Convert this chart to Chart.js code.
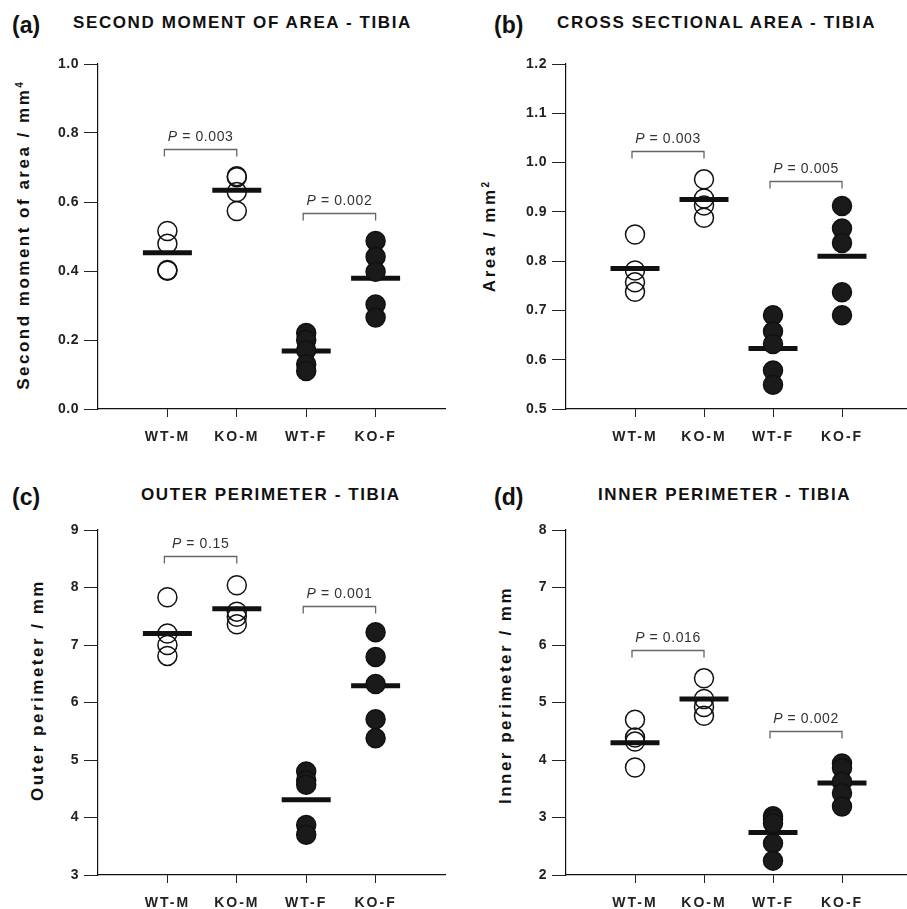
<!DOCTYPE html>
<html>
<head>
<meta charset="utf-8">
<script src="https://cdn.jsdelivr.net/npm/chart.js@4.4.1/dist/chart.umd.min.js"></script>
<style>
  body { margin: 0; width: 907px; height: 909px; overflow: hidden; background: #fff; position: relative;
         font-family: 'Liberation Sans', Arial, sans-serif; color: #111; }
  .panel { position: absolute; }
  .letter { position: absolute; font-size: 23px; font-weight: bold; line-height: 24px; }
  .title { position: absolute; font-size: 17px; font-weight: bold; letter-spacing: 1.6px; line-height: 20px; white-space: nowrap; }
  .ytitle { position: absolute; font-size: 17px; font-weight: bold; letter-spacing: 2.5px; white-space: nowrap;
            transform: translate(-50%, -50%) rotate(-90deg); }
  .ytitle sup { font-size: 10px; letter-spacing: 0; }
</style>
</head>
<body>
<div class="letter" style="left:12px; top:13px;">(a)</div>
<div class="title" style="left:73px; top:13px;">SECOND MOMENT OF AREA - TIBIA</div>
<div class="letter" style="left:494px; top:13px;">(b)</div>
<div class="title" style="left:557px; top:13px;">CROSS SECTIONAL AREA - TIBIA</div>
<div class="letter" style="left:12px; top:485px;">(c)</div>
<div class="title" style="left:141px; top:485px;">OUTER PERIMETER - TIBIA</div>
<div class="letter" style="left:494px; top:485px;">(d)</div>
<div class="title" style="left:598px; top:485px;">INNER PERIMETER - TIBIA</div>

<div class="ytitle" style="left:24px; top:236px;">Second moment of area / mm<sup>4</sup></div>
<div class="ytitle" style="left:490px; top:237px;">Area / mm<sup>2</sup></div>
<div class="ytitle" style="left:38px; top:690px;">Outer perimeter / mm</div>
<div class="ytitle" style="left:506px; top:695px;">Inner perimeter / mm</div>

<div class="panel" style="left:0px; top:34px;"><canvas id="chartA" width="450" height="409"></canvas></div>
<div class="panel" style="left:460px; top:34px;"><canvas id="chartB" width="451" height="409"></canvas></div>
<div class="panel" style="left:0px; top:500px;"><canvas id="chartC" width="450" height="409"></canvas></div>
<div class="panel" style="left:460px; top:500px;"><canvas id="chartD" width="451" height="409"></canvas></div>

<script>
Chart.defaults.font.family = "'Liberation Sans', Arial, sans-serif";
Chart.defaults.color = '#222';

const groups = ['WT-M', 'KO-M', 'WT-F', 'KO-F'];

// (a) Second moment of area
const smaWtM = [0.516, 0.479, 0.403, 0.401];
const smaKoM = [0.675, 0.672, 0.629, 0.574];
const smaWtF = [0.220, 0.200, 0.170, 0.130, 0.110];
const smaKoF = [0.487, 0.441, 0.398, 0.303, 0.265];
const smaMeans = [0.453, 0.634, 0.168, 0.379];
const smaBracketY = [0.753, 0.568];
const smaPValues = ['0.003', '0.002'];

// (b) Cross sectional area
const csaWtM = [0.854, 0.781, 0.757, 0.738];
const csaKoM = [0.966, 0.927, 0.913, 0.888];
const csaWtF = [0.690, 0.657, 0.632, 0.578, 0.549];
const csaKoF = [0.912, 0.866, 0.837, 0.737, 0.690];
const csaMeans = [0.785, 0.925, 0.623, 0.810];
const csaBracketY = [1.024, 0.962];
const csaPValues = ['0.003', '0.005'];

// (c) Outer perimeter
const opWtM = [7.83, 7.20, 7.00, 6.81];
const opKoM = [8.04, 7.58, 7.49, 7.36];
const opWtF = [4.80, 4.65, 4.57, 3.87, 3.70];
const opKoF = [7.22, 6.79, 6.32, 5.71, 5.38];
const opMeans = [7.20, 7.63, 4.31, 6.29];
const opBracketY = [8.55, 7.67];
const opPValues = ['0.15', '0.001'];

// (d) Inner perimeter
const ipWtM = [4.70, 4.39, 4.32, 3.87];
const ipKoM = [5.42, 5.06, 4.92, 4.77];
const ipWtF = [3.02, 2.97, 2.90, 2.55, 2.25];
const ipKoF = [3.94, 3.86, 3.62, 3.42, 3.19];
const ipMeans = [4.30, 5.06, 2.74, 3.60];
const ipBracketY = [5.91, 4.51];
const ipPValues = ['0.016', '0.002'];

function buildDatasets(sets, means) {
  const ds = sets.map((vals, i) => ({
    data: vals.map(v => ({ x: i + 1, y: v })),
    pointRadius: 9.5,
    pointHoverRadius: 9.5,
    pointBorderWidth: 1.5,
    pointBorderColor: '#111',
    pointBackgroundColor: i < 2 ? 'rgba(0,0,0,0)' : '#1a1a1a',
    showLine: false,
    clip: false
  }));
  ds.push({
    data: means.map((m, i) => ({ x: i + 1, y: m })),
    pointStyle: 'line',
    pointRadius: 24.5,
    pointHoverRadius: 24.5,
    pointBorderWidth: 5,
    pointBorderColor: '#111',
    showLine: false,
    clip: false
  });
  return ds;
}

// brackets between WT and KO with P values above
function bracketPlugin(levels, pvals) {
  return {
    id: 'brackets',
    afterDatasetsDraw(chart) {
      const ctx = chart.ctx;
      const xs = chart.scales.x, ys = chart.scales.y;
      levels.forEach((lvl, k) => {
        const x1 = xs.getPixelForValue(1 + k * 2) - 3;
        const x2 = xs.getPixelForValue(2 + k * 2);
        const y = Math.round(ys.getPixelForValue(lvl)) + 0.5;
        ctx.save();
        ctx.strokeStyle = '#666';
        ctx.lineWidth = 1.3;
        ctx.beginPath();
        ctx.moveTo(x1, y + 7);
        ctx.lineTo(x1, y);
        ctx.lineTo(x2, y);
        ctx.lineTo(x2, y + 7);
        ctx.stroke();

        ctx.fillStyle = '#333';
        ctx.textBaseline = 'middle';
        ctx.textAlign = 'left';
        ctx.letterSpacing = '0.6px';
        ctx.font = "italic 14px 'Liberation Sans', Arial, sans-serif";
        const wP = ctx.measureText('P').width;
        ctx.font = "14px 'Liberation Sans', Arial, sans-serif";
        const rest = ' = ' + pvals[k];
        const wR = ctx.measureText(rest).width;
        const tx = (x1 + x2) / 2 - (wP + wR) / 2;
        const ty = y - 12;
        ctx.font = "italic 14px 'Liberation Sans', Arial, sans-serif";
        ctx.fillText('P', tx, ty);
        ctx.font = "14px 'Liberation Sans', Arial, sans-serif";
        ctx.fillText(rest, tx + wP, ty);
        ctx.restore();
      });
    }
  };
}

// letter spacing for the tick labels
const spacingPlugin = {
  id: 'spacing',
  beforeDraw(chart) {
    [['x', '2px'], ['y', '0.5px']].forEach(([id, sp]) => {
      const s = chart.scales[id];
      if (s._spaced) return;
      const orig = s.drawLabels;
      s.drawLabels = function(area) {
        this.ctx.save();
        this.ctx.letterSpacing = sp;
        orig.call(this, area);
        this.ctx.restore();
      };
      s._spaced = true;
    });
  }
};

function makePanel(id, sets, means, levels, pvals, yMin, yMax, step, decimals, yWidth, padRight) {
  new Chart(document.getElementById(id), {
    type: 'scatter',
    data: { datasets: buildDatasets(sets, means) },
    options: {
      responsive: false,
      animation: false,
      events: [],
      layout: { autoPadding: false, padding: { top: 30, right: padRight, left: 0, bottom: 0 } },
      plugins: { legend: { display: false }, tooltip: { enabled: false } },
      scales: {
        x: {
          type: 'linear',
          min: 0,
          max: 5,
          afterBuildTicks: s => { s.ticks = groups.map((g, i) => ({ value: i + 1 })); },
          afterFit: s => { s.height = 409 - 30 - 345; },
          ticks: {
            autoSkip: false,
            maxRotation: 0,
            padding: 12,
            color: '#222',
            font: { size: 14, weight: 'bold' },
            callback: (v, i) => groups[i]
          },
          grid: { display: true, drawOnChartArea: false, drawTicks: true, tickLength: 8, color: '#222', lineWidth: 1 },
          border: { display: true, color: '#111', width: 1.2 }
        },
        y: {
          min: yMin,
          max: yMax,
          afterFit: s => { s.width = yWidth; },
          ticks: {
            stepSize: step,
            padding: 5,
            color: '#222',
            font: { size: 14, weight: 'bold' },
            callback: v => Number(v).toFixed(decimals)
          },
          grid: { display: true, drawOnChartArea: false, drawTicks: true, tickLength: 14, color: '#222', lineWidth: 1 },
          border: { display: true, color: '#111', width: 1.2 }
        }
      }
    },
    plugins: [bracketPlugin(levels, pvals), spacingPlugin]
  });
}

makePanel('chartA', [smaWtM, smaKoM, smaWtF, smaKoF], smaMeans, smaBracketY, smaPValues, 0, 1.0, 0.2, 1, 98, 5);
makePanel('chartB', [csaWtM, csaKoM, csaWtF, csaKoF], csaMeans, csaBracketY, csaPValues, 0.5, 1.2, 0.1, 1, 106, 0);
makePanel('chartC', [opWtM, opKoM, opWtF, opKoF], opMeans, opBracketY, opPValues, 3, 9, 1, 0, 98, 5);
makePanel('chartD', [ipWtM, ipKoM, ipWtF, ipKoF], ipMeans, ipBracketY, ipPValues, 2, 8, 1, 0, 106, 0);
</script>
</body>
</html>
